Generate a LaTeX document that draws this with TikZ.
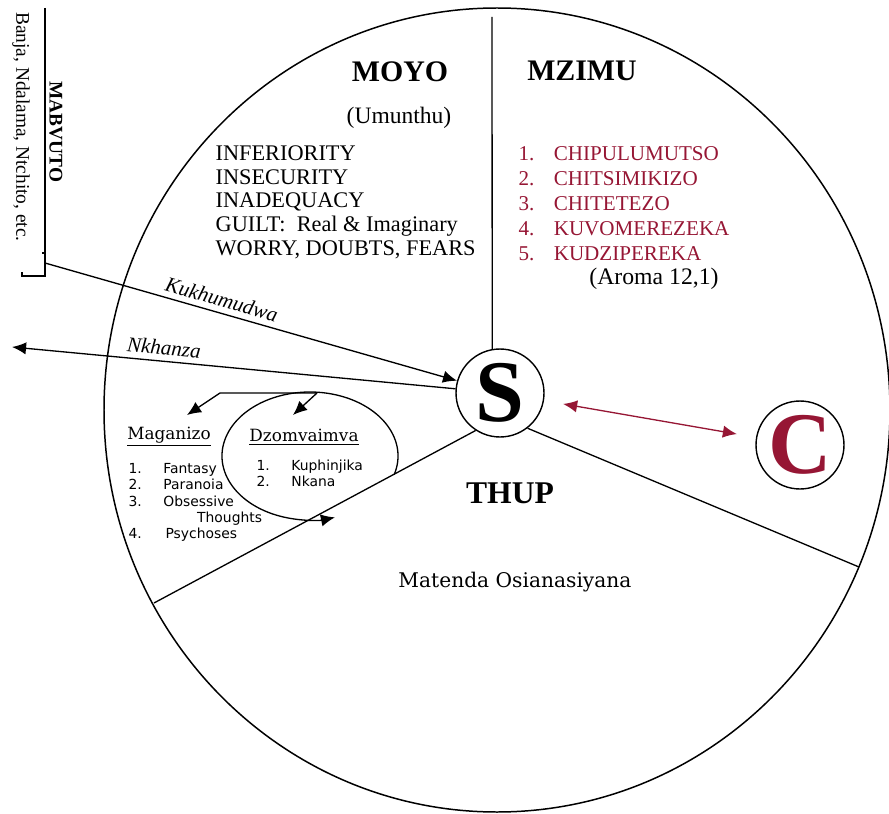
\documentclass[tikz,border=0pt]{standalone}
\usepackage{fontspec}
\setmainfont{Liberation Serif}
\newfontfamily\slabserif{DejaVu Serif}
\newfontfamily\listsans{DejaVu Sans}
\usetikzlibrary{arrows.meta}
\definecolor{wine}{RGB}{150,22,52}

\tikzset{
  >={Latex[length=8pt,width=7pt]},
  bigletter/.style={circle, draw, line width=0.8pt, minimum size=1.76cm, inner sep=0pt,
    font=\fontsize{50}{50}\selectfont\bfseries},
  head/.style={font=\fontsize{17}{17}\selectfont\bfseries},
  biglist/.style={anchor=north west, inner sep=0pt, align=left},
  smalllist/.style={anchor=north west, inner sep=0pt, align=left,
    font=\listsans\fontsize{7.9}{9.2}\selectfont},
  subhead/.style={font=\slabserif\fontsize{9.6}{10}\selectfont},
  linelabel/.style={font=\fontsize{12}{12}\selectfont\itshape, sloped, above, inner sep=3pt}
}

\begin{document}
\begin{tikzpicture}[x=0.02cm, y=-0.02cm, line width=0.75pt]
	\useasboundingbox (0,0) rectangle (889,814);

	% outer oval and the centre
	\coordinate (O) at (497,410);
	\draw[line width=0.85pt] (O) ellipse [x radius=393, y radius=402];
	\node[bigletter] (S) at (500,393) {S};
	\node[bigletter, text=wine] (C) at (800,445) {C};

	% the three parts
	\coordinate (top) at (492,17);
	\coordinate (ll) at (154,603);
	\coordinate (lr) at (859,567);
	\draw (top) -- (S.100);
	\draw (S.-123) -- (ll);
	\draw (S.-52) -- (lr);

	\draw[<->, wine, shorten <=11pt, shorten >=11pt] (S) -- (C);

	% MABVUTO bracket
	\draw[line width=0.6pt] (45,8) -- (45,276) -- (22,276) -- (22,272);
	\draw[line width=0.6pt] (42,253) -- (45,253);
	\coordinate (brk) at (45,263);
	\node[rotate=-90, font=\fontsize{11}{11}\selectfont\bfseries] (mabvuto) at (56,132) {MABVUTO};
	\node[rotate=-90, font=\fontsize{11}{11}\selectfont] (banja) at (21,127) {Banja, Ndalama, Ntchito, etc.};

	\draw[->] (brk) -- (S) node[linelabel, pos=0.42] {Kukhumudwa};
	\coordinate (out) at (12,347);
	\draw[->] (S) -- (out) node[linelabel, pos=0.66] {Nkhanza};

	% MOYO
	\node[head] (moyo) at (400,72) {MOYO};
	\node[font=\fontsize{13.4}{14}\selectfont] (umunthu) at (399,118) {(Umunthu)};
	\node[biglist, font=\fontsize{12.7}{13.5}\selectfont] (moyolist) at (215,145)
		{INFERIORITY\\ INSECURITY\\ INADEQUACY\\ GUILT:\ \ Real \& Imaginary\\ WORRY, DOUBTS, FEARS};

	% MZIMU
	\node[head] (mzimu) at (582,71) {MZIMU};
	\node[biglist, text=wine, font=\fontsize{12}{14.2}\selectfont] (mzimulist) at (518,146)
		{\makebox[20pt][l]{1.}CHIPULUMUTSO\\ \makebox[20pt][l]{2.}CHITSIMIKIZO\\
		 \makebox[20pt][l]{3.}CHITETEZO\\ \makebox[20pt][l]{4.}KUVOMEREZEKA\\
		 \makebox[20pt][l]{5.}KUDZIPEREKA};
	\node[font=\fontsize{13.5}{14}\selectfont] (aroma) at (654,279) {(Aroma 12,1)};

	% THUP
	\node[font=\fontsize{18}{18}\selectfont\bfseries] (thup) at (510,493) {THUP};
	\node[font=\slabserif\fontsize{11.5}{12}\selectfont] (matenda) at (515,582) {Matenda Osianasiyana};

	\node[subhead] (maganizo) at (169,437) {\underline{Maganizo}};
	\node[subhead] (dzomvaimva) at (304,437) {\underline{Dzomvaimva}};
	\node[smalllist] (maglist) at (128,463)
		{\makebox[19.8pt][l]{1.}Fantasy\\ \makebox[19.8pt][l]{2.}Paranoia\\
		 \makebox[19.8pt][l]{3.}Obsessive\\ \hspace*{39pt}Thoughts\\
		 \makebox[21pt][l]{4.}Psychoses};
	\node[smalllist] (dzolist) at (256,459)
		{\makebox[19.8pt][l]{1.}Kuphinjika\\ \makebox[19.8pt][l]{2.}Nkana};

	% loop and the two branches
	\coordinate (ltop) at (317,393);
	\coordinate (lbend) at (220,393);
	\coordinate (tomag) at (187,415);
	\coordinate (todzo) at (293,415);
	\draw[->] (ltop) -- (lbend) -- (tomag);
	\draw[->] (ltop) -- (todzo);
	\draw[->] (310,456) ++(17:88 and 64) arc[start angle=17, end angle=-286.5, x radius=88, y radius=64];
\end{tikzpicture}
\end{document}
